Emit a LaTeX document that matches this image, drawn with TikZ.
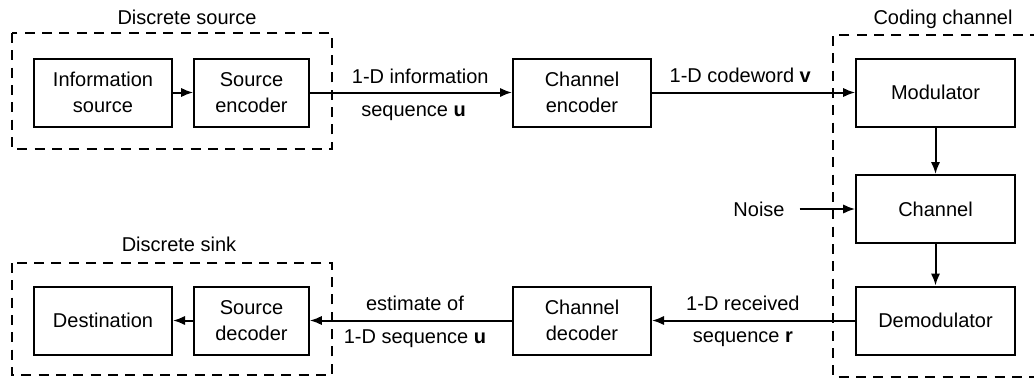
\documentclass[tikz,border=0pt]{standalone}
\usepackage{fontspec}
\setmainfont{Liberation Sans}
\usetikzlibrary{arrows.meta}

\begin{document}
\begin{tikzpicture}[x=0.75pt, y=-0.75pt,
  font=\fontsize{15}{19.5}\selectfont,
  block/.style={draw, line width=1.5pt, align=center, minimum height=51pt, inner sep=0pt},
  group/.style={line width=1.5pt, dash pattern=on 7.5pt off 5.5pt},
  flow/.style={line width=1.5pt, -{Latex[length=9pt,width=7pt]}}]
\useasboundingbox (0,0) rectangle (1034,379);
% Source side blocks
\node[block, minimum width=103.5pt] (infosrc) at (103,92.5)   {Information\\source};
\node[block, minimum width=86pt]    (srcenc)  at (251.5,92.5) {Source\\encoder};
\node[block, minimum width=103.5pt] (chanenc) at (582,92.5)   {Channel\\encoder};
% Coding channel blocks
\node[block, minimum width=119pt] (mod)   at (935.5,92.5) {Modulator};
\node[block, minimum width=119pt] (chan)  at (935.5,209)  {Channel};
\node[block, minimum width=119pt] (demod) at (935.5,320.5) {Demodulator};
% Sink side blocks
\node[block, minimum width=103.5pt] (chandec) at (582,320.5)   {Channel\\decoder};
\node[block, minimum width=86pt]    (srcdec)  at (251.5,320.5) {Source\\decoder};
\node[block, minimum width=103.5pt] (dest)    at (103,320.5)   {Destination};
% Noise input
\node[inner xsep=11pt] (noise) at (759,209) {Noise};
% Group frames
\draw[group] (12,33) rectangle (332,149);
\draw[group] (12,263) rectangle (332,375);
\draw[group] (1040,35) -| (833,377) -- (1040,377);
% Group captions
\node (srclabel)  at (187,17)  {Discrete source};
\node (sinklabel) at (179,244) {Discrete sink};
\node (chlabel)   at (943,19)  {Coding channel};
% Forward path
\draw[flow] (infosrc) -- (srcenc);
\draw[flow] (srcenc) -- (chanenc)
    node[midway, above=2.5pt, xshift=7pt] {1-D information}
    node[midway, below=6pt, xshift=2pt] {sequence \textbf{u}};
\draw[flow] (chanenc) -- (mod)
    node[midway, above=3.5pt, xshift=-10pt] {1-D codeword \textbf{v}};
\draw[flow] (mod) -- (chan);
\draw[flow] (noise) -- (chan);
\draw[flow] (chan) -- (demod);
% Return path
\draw[flow] (demod) -- (chandec)
    node[midway, above=3pt, xshift=-8pt] {1-D received}
    node[midway, below=4.5pt, xshift=-8pt] {sequence \textbf{r}};
\draw[flow] (chandec) -- (srcdec)
    node[midway, above=3pt, xshift=3pt] {estimate of}
    node[midway, below=3pt, xshift=3pt] {1-D sequence \textbf{u}};
\draw[flow] (srcdec) -- (dest);
\end{tikzpicture}
\end{document}
